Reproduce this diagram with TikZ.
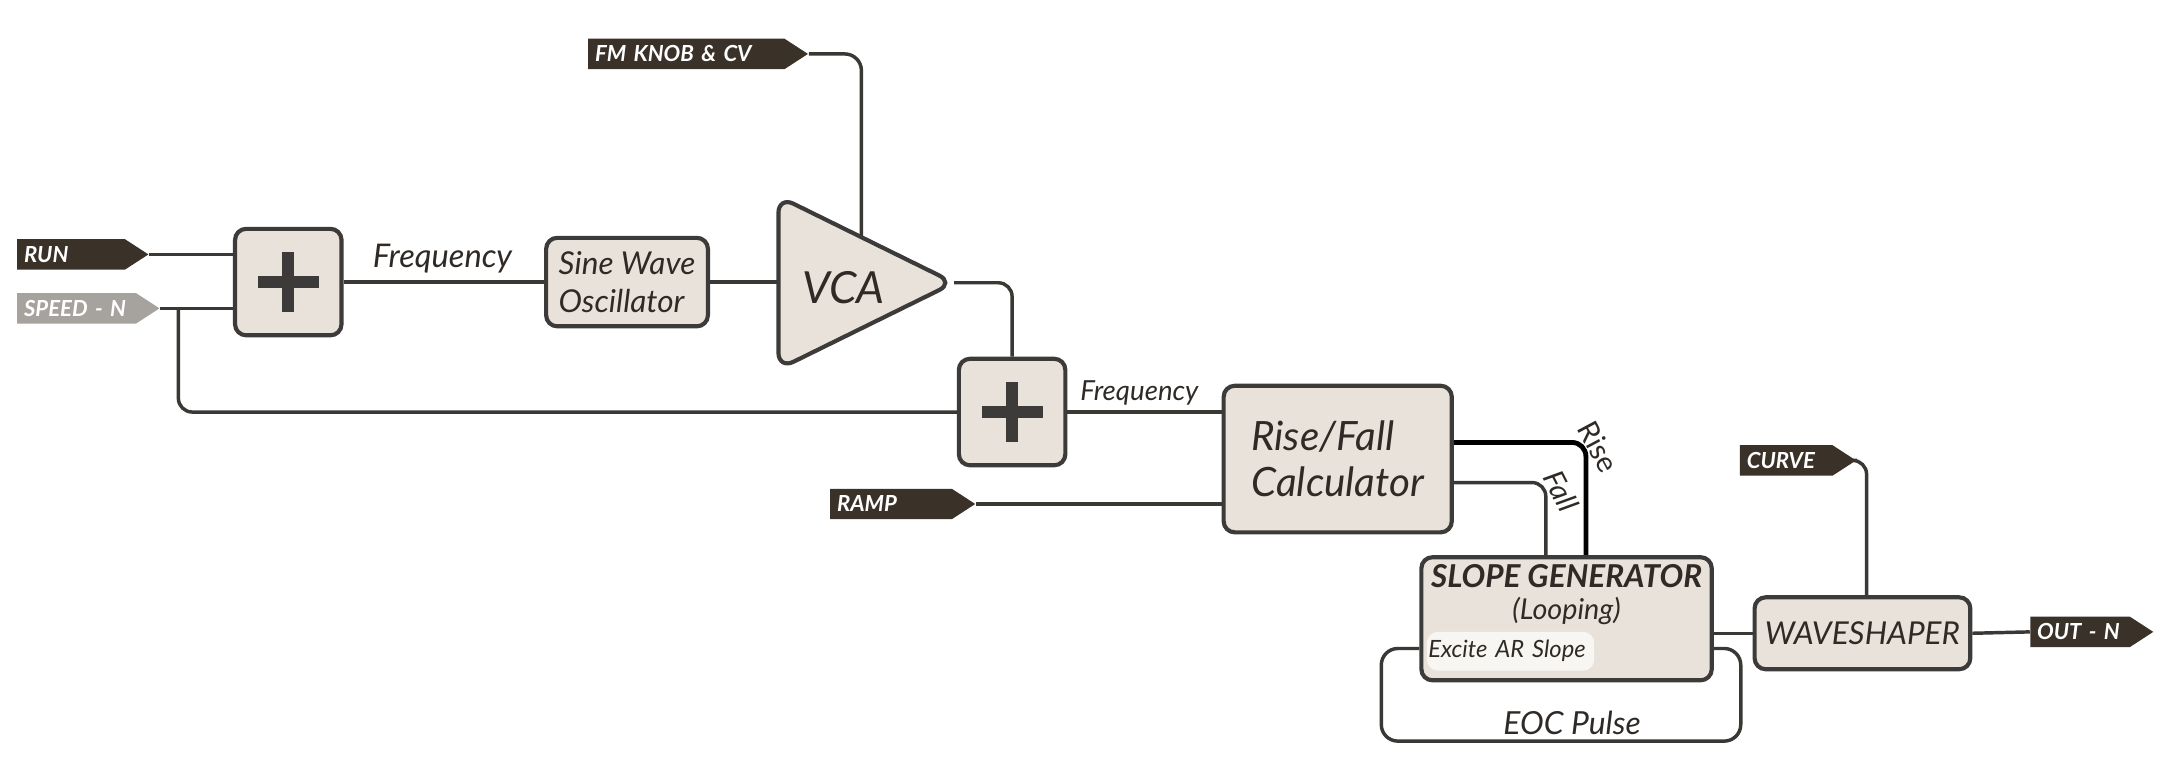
\documentclass[tikz,border=0pt]{standalone}
\usepackage{fontspec}
\setmainfont{Lato}
\usetikzlibrary{shapes.symbols,backgrounds,calc}

\definecolor{boxfill}{HTML}{E9E2DA}
\definecolor{boxline}{HTML}{3C3B3A}
\definecolor{wirecol}{HTML}{3A3835}
\definecolor{tagcol}{HTML}{3A3128}
\definecolor{taggray}{HTML}{A6A29D}
\definecolor{ink}{HTML}{2F2A25}
\definecolor{excitefill}{HTML}{F8F6F3}

\begin{document}
\begin{tikzpicture}[x=0.5pt,y=-0.5pt,
    block/.style={draw=boxline, line width=1.5pt, fill=boxfill, rounded corners=4pt,
      inner sep=0pt, text=ink, align=left},
    adder/.style={block, minimum width=38.5pt, minimum height=38.5pt,
      path picture={
        \fill[boxline, sharp corners] ($(path picture bounding box.center)+(-22,-4.25)$) rectangle ($(path picture bounding box.center)+(22,4.25)$);
        \fill[boxline, sharp corners] ($(path picture bounding box.center)+(-4.25,-22)$) rectangle ($(path picture bounding box.center)+(4.25,22)$);}},
    tag/.style={signal, signal to=east, signal pointer angle=66, fill=tagcol, text=white,
      anchor=west, inner xsep=2.5pt, inner ysep=0pt, minimum height=11pt, align=left,
      text width=#1, font=\fontsize{8}{9}\selectfont\bfseries\itshape},
    wire/.style={draw=wirecol, line width=1.25pt, rounded corners=5pt},
    lbl/.style={text=ink, inner sep=0pt}
  ]
    \useasboundingbox (0,0) rectangle (1568,553);
    % Inputs and output tags
    \node[tag=34pt] (run) at (12,184) {RUN};
    \node[tag=38pt, fill=taggray] (speed) at (12,223) {SPEED - N};
    \node[tag=66pt] (fm) at (425,39) {FM KNOB \& CV};
    \node[tag=39pt] (ramp) at (600,364.5) {RAMP};
    \node[tag=28.5pt] (curve) at (1258,333) {CURVE};
    \node[tag=31pt] (out) at (1468,457) {OUT - N};
    % Top row: adder, oscillator, VCA
    \node[adder] (add1) at (208.5,204) {};
    \node[block, minimum width=58.5pt, minimum height=32pt,
      font=\fontsize{11.4}{14}\selectfont\itshape] (osc) at (453.5,204) {Sine Wave\\Oscillator};
    \coordinate (vcaTop) at (563,142);
    \coordinate (vcaTip) at (690,204.5);
    \coordinate (vcaBot) at (563,267);
    \coordinate (vcaIn) at (563,204);
    \coordinate (vcaCV) at (623,185);
    \draw[block, rounded corners=6pt] (vcaTop) -- (vcaTip) -- (vcaBot) -- cycle;
    \node[lbl, font=\fontsize{16}{18}\selectfont\itshape] (vca) at (610,208) {VCA};
    % Middle: second adder and rise/fall calculator
    \node[adder] (add2) at (732,298) {};
    \node[block, minimum width=82.5pt, minimum height=53pt,
      font=\fontsize{14.6}{16.5}\selectfont\itshape] (calc) at (967.5,332) {Rise/Fall\\Calculator};
    % Bottom: slope generator and waveshaper
    \node[block, minimum width=105pt, minimum height=44.5pt] (slope) at (1133,447.5) {};
    \node[lbl, font=\fontsize{11.4}{13}\selectfont\bfseries\itshape] (slopeTitle) at (1133,416.5) {SLOPE GENERATOR};
    \node[lbl, font=\fontsize{10.4}{12}\selectfont\itshape] (slopeMode) at (1133,442) {(Looping)};
    \node[fill=excitefill, rounded corners=4pt, text=ink, inner xsep=0.5pt, inner ysep=0pt,
      minimum height=14pt, text width=59.5pt, align=left,
      font=\fontsize{8.6}{9}\selectfont\itshape] (excite) at (1092.5,471) {Excite AR Slope};
    \node[block, minimum width=78pt, minimum height=26pt, align=center,
      font=\fontsize{11.4}{13}\selectfont\itshape] (shaper) at (1347,458) {WAVESHAPER};
    % Wire labels
    \node[lbl, font=\fontsize{11.8}{13}\selectfont\itshape] (freqA) at (320,187) {Frequency};
    \node[lbl, font=\fontsize{10}{12}\selectfont\itshape] (freqB) at (824,284) {Frequency};
    \node[lbl, rotate=-62, font=\fontsize{10.5}{12}\selectfont] (riseLbl) at (1156,323) {Rise};
    \node[lbl, rotate=-63, font=\fontsize{10.5}{12}\selectfont\itshape] (fallLbl) at (1129,355) {Fall};
    \node[lbl, font=\fontsize{11.5}{13}\selectfont\itshape] (eocLbl) at (1137,523) {EOC Pulse};
    % Connectors
    \begin{scope}[on background layer]
        \coordinate (split) at (129,223);
        \coordinate (eocR) at (1259,536);
        \coordinate (eocL) at (999,536);
        \draw[wire] (run.east) -- (run.east -| add1.west);
        \draw[wire] (speed.east) -- (speed.east -| add1.west);
        \draw[wire] (split) |- (add2.west);
        \draw[wire] (add1.east) -- (osc.west);
        \draw[wire] (osc.east) -- (vcaIn);
        \draw[wire, rounded corners=6pt] (fm.east) -| (vcaCV);
        \draw[wire] (vcaTip) -| (add2.north);
        \draw[wire] (add2.east) -- (add2.east -| calc.west);
        \draw[wire] (ramp.east) -- (ramp.east -| calc.west);
        \draw[wire, draw=black, line width=1.75pt] ($(calc.east)+(0,-12)$) -| ($(slope.north)+(14,0)$);
        \draw[wire] ($(calc.east)+(0,17)$) -| ($(slope.north)+(-15,0)$);
        \draw[wire] (shaper.west -| slope.east) -- (shaper.west);
        \draw[wire] (shaper.east) -- (out.west);
        \draw[wire] (curve.east) -| ($(shaper.north)+(3,0)$);
        \draw[wire, rounded corners=6pt] ($(slope.east)+(0,21.5)$) -| (eocR) -- (eocL) |- ($(slope.west)+(0,21.5)$);
    \end{scope}
\end{tikzpicture}
\end{document}
